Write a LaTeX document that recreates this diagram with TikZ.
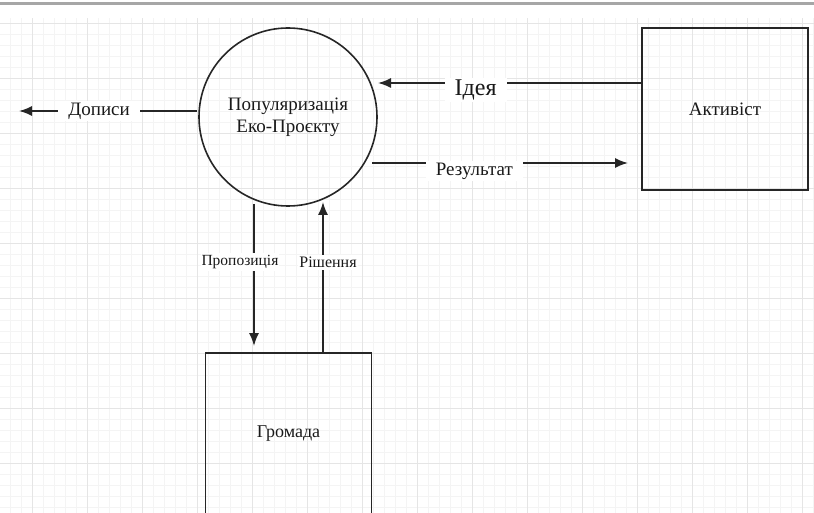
\documentclass[tikz,border=0pt]{standalone}
\usepackage{fontspec}
\setmainfont{Liberation Serif}
\usetikzlibrary{arrows.meta}
\begin{document}
\begin{tikzpicture}[x=1pt, y=-1pt, line width=1.6pt,
    every node/.style={font=\fontsize{19}{22}\selectfont, align=center, text=black!90},
    box/.style={draw=black!85, minimum width=166pt, minimum height=162pt},
    proc/.style={draw=black!85, circle, minimum size=178pt, inner sep=0pt},
    lbl/.style={fill=white, inner xsep=8pt, inner ysep=2pt},
    every edge/.style={draw=black!85, -{Latex[length=13pt, width=10pt]}}]
  \useasboundingbox (0,0) rectangle (814,513);

  % Raster im Hintergrund
  \begin{scope}[shift={(32,23)}]
    \draw[gray!9, line width=0.6pt, step=11pt] (-32,-5) grid (782,490);
    \draw[gray!20, line width=0.8pt, step=55pt] (-32,-5) grid (782,490);
  \end{scope}
  \draw[gray!70, line width=3pt] (0,4) -- (814,4);

  \coordinate (xp) at (288, 117);
  \coordinate (xa) at (725, 109);
  \coordinate (xg) at (288.5, 434);
  \node[proc] (pop) at (xp) {\fontsize{19}{24}\selectfont Популяризація\\Еко-Проєкту};
  \node[box] (akt) at (xa) {Активіст};
  \node[box] (grom) at (xg) {\fontsize{18}{21}\selectfont Громада};

  \coordinate (i1) at (642, 83);
  \coordinate (i2) at (378, 83);
  \coordinate (r1) at (372, 163);
  \coordinate (r2) at (628, 163);
  \coordinate (d1) at (197, 111);
  \coordinate (d2) at (19, 111);
  \coordinate (p1) at (254, 204);
  \coordinate (p2) at (254, 346);
  \coordinate (s1) at (323, 353);
  \coordinate (s2) at (323, 202);

  \draw (i1) edge node[lbl, yshift=-7pt, pos=0.63, inner xsep=10pt] {\fontsize{24}{28}\selectfont Ідея} (i2);
  \draw (r1) edge node[lbl, yshift=-8pt, pos=0.4, inner xsep=10pt] {Результат} (r2);
  \draw (d1) edge node[lbl, pos=0.55, inner xsep=10pt] {Дописи} (d2);
  \draw (p1) edge node[lbl, xshift=-14pt, inner xsep=1pt, pos=0.41] {\fontsize{15.5}{18}\selectfont Пропозиція} (p2);
  \draw (s1) edge node[lbl, xshift=5pt, inner xsep=1pt, pos=0.6] {\fontsize{16}{19}\selectfont Рішення} (s2);
\end{tikzpicture}
\end{document}
